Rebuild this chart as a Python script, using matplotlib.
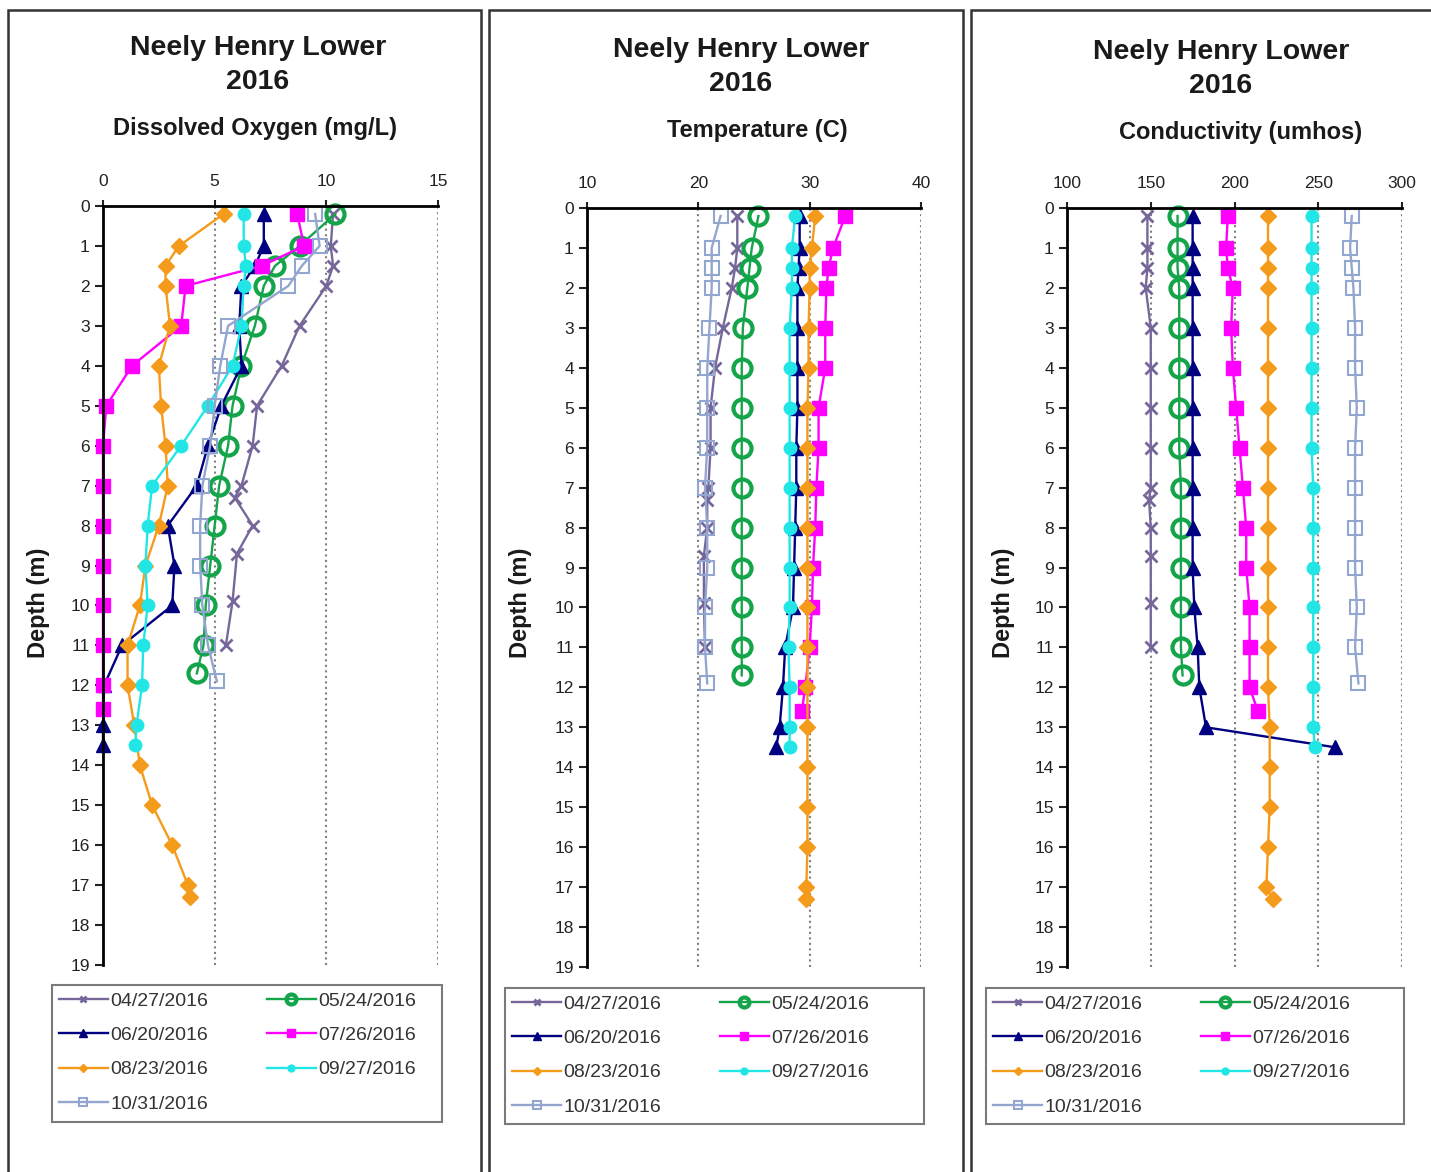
import matplotlib
matplotlib.use("Agg")
import matplotlib.pyplot as plt
from matplotlib.patches import Rectangle

plt.rcParams["font.family"] = ["Liberation Sans", "DejaVu Sans"]

W, H = 1431, 1172

dates = ["04/27/2016", "05/24/2016", "06/20/2016", "07/26/2016",
         "08/23/2016", "09/27/2016", "10/31/2016"]

# depths (m) of each profile
depth_0427 = [0.2, 1, 1.5, 2, 3, 4, 5, 6, 7, 7.3, 8, 8.7, 9.9, 11]
depth_0524 = [0.2, 1, 1.5, 2, 3, 4, 5, 6, 7, 8, 9, 10, 11, 11.7]
depth_0620 = [0.2, 1, 1.5, 2, 3, 4, 5, 6, 7, 8, 9, 10, 11, 12, 13, 13.5]
depth_0726 = [0.2, 1, 1.5, 2, 3, 4, 5, 6, 7, 8, 9, 10, 11, 12, 12.6]
depth_0823 = [0.2, 1, 1.5, 2, 3, 4, 5, 6, 7, 8, 9, 10, 11, 12, 13, 14, 15,
              16, 17, 17.3]
depth_0927 = [0.2, 1, 1.5, 2, 3, 4, 5, 6, 7, 8, 9, 10, 11, 12, 13, 13.5]
depth_1031 = [0.2, 1, 1.5, 2, 3, 4, 5, 6, 7, 8, 9, 10, 11, 11.9]

# dissolved oxygen (mg/L)
do_0427 = [10.3, 10.2, 10.3, 10.0, 8.8, 8.0, 6.9, 6.7, 6.2, 5.9, 6.7, 6.0,
           5.8, 5.5]
do_0524 = [10.4, 8.8, 7.7, 7.2, 6.8, 6.2, 5.8, 5.6, 5.2, 5.0, 4.8, 4.6, 4.5,
           4.2]
do_0620 = [7.2, 7.2, 6.8, 6.2, 6.1, 6.2, 5.3, 4.7, 4.2, 2.9, 3.2, 3.1, 0.85,
           0.05, 0.0, 0.0]
do_0726 = [8.7, 9.0, 7.1, 3.7, 3.5, 1.3, 0.15, 0, 0, 0, 0, 0, 0, 0, 0]
do_0823 = [5.4, 3.4, 2.8, 2.8, 3.0, 2.5, 2.6, 2.8, 2.9, 2.5, 1.9, 1.65, 1.1,
           1.1, 1.4, 1.65, 2.2, 3.1, 3.8, 3.9]
do_0927 = [6.3, 6.3, 6.4, 6.3, 6.2, 5.8, 4.7, 3.5, 2.2, 2.0, 1.9, 2.0, 1.8,
           1.75, 1.5, 1.45]
do_1031 = [9.5, 9.7, 8.9, 8.3, 5.6, 5.25, 5.0, 4.8, 4.45, 4.35, 4.35, 4.45,
           4.7, 5.1]

# temperature (C)
temp_0427 = [23.5, 23.5, 23.3, 23.0, 22.2, 21.5, 21.1, 21.1, 20.9, 20.8,
             20.8, 20.5, 20.5, 20.6]
temp_0524 = [25.4, 24.8, 24.6, 24.4, 24.0, 23.9, 23.9, 23.9, 23.9, 23.9,
             23.9, 23.9, 23.9, 23.9]
temp_0620 = [29.1, 29.1, 29.0, 28.9, 28.9, 28.9, 28.9, 28.8, 28.8, 28.7,
             28.6, 28.5, 27.8, 27.6, 27.3, 27.0]
temp_0726 = [33.2, 32.1, 31.7, 31.5, 31.4, 31.4, 30.8, 30.8, 30.6, 30.5,
             30.3, 30.2, 30.0, 29.6, 29.3]
temp_0823 = [30.5, 30.2, 30.0, 30.0, 29.9, 29.9, 29.8, 29.8, 29.8, 29.8,
             29.8, 29.8, 29.8, 29.8, 29.8, 29.8, 29.8, 29.8, 29.7, 29.7]
temp_0927 = [28.7, 28.4, 28.4, 28.4, 28.2, 28.2, 28.2, 28.2, 28.2, 28.2,
             28.2, 28.2, 28.1, 28.2, 28.2, 28.2]
temp_1031 = [22.0, 21.2, 21.2, 21.2, 21.0, 20.8, 20.8, 20.8, 20.6, 20.8,
             20.8, 20.6, 20.6, 20.8]

# conductivity (umhos)
cond_0427 = [148, 148, 148, 147, 150, 150, 150, 150, 150, 149, 150, 150,
             150, 150]
cond_0524 = [166, 166, 166, 167, 167, 167, 167, 167, 168, 168, 168, 168,
             168, 169]
cond_0620 = [175, 175, 175, 175, 175, 175, 175, 175, 175, 175, 175, 176,
             178, 179, 183, 260]
cond_0726 = [196, 195, 196, 199, 198, 199, 201, 203, 205, 207, 207, 209,
             209, 209, 214]
cond_0823 = [220, 220, 220, 220, 220, 220, 220, 220, 220, 220, 220, 220,
             220, 220, 221, 221, 221, 220, 219, 223]
cond_0927 = [246, 246, 246, 246, 246, 246, 246, 246, 247, 247, 247, 247,
             247, 247, 247, 248]
cond_1031 = [270, 269, 270, 271, 272, 272, 273, 272, 272, 272, 272, 273,
             272, 274]

depths = [depth_0427, depth_0524, depth_0620, depth_0726, depth_0823,
          depth_0927, depth_1031]
do_vals = [do_0427, do_0524, do_0620, do_0726, do_0823, do_0927, do_1031]
temp_vals = [temp_0427, temp_0524, temp_0620, temp_0726, temp_0823,
             temp_0927, temp_1031]
cond_vals = [cond_0427, cond_0524, cond_0620, cond_0726, cond_0823,
             cond_0927, cond_1031]

# line/marker styles per date
styles = [
    dict(color="#76679a", marker="x", ms=8, mew=2.0, mfc="#76679a"),
    dict(color="#14a44a", marker="o", ms=13, mew=3.0, mfc="none"),
    dict(color="#000080", marker="^", ms=10, mew=1.0, mfc="#000080"),
    dict(color="#ff00ff", marker="s", ms=10, mew=1.0, mfc="#ff00ff"),
    dict(color="#f59b1c", marker="D", ms=8, mew=1.0, mfc="#f59b1c"),
    dict(color="#22e6e6", marker="o", ms=9, mew=1.0, mfc="#22e6e6"),
    dict(color="#93a6d0", marker="s", ms=10, mew=1.5, mfc="none"),
]


def fig_rect(left, top, right, bottom):
    return [left / W, 1 - bottom / H, (right - left) / W, (bottom - top) / H]


def draw_panel(fig, box, axbox, vals, xlim, xticks, subtitle,
               title_xy, sub_xy, label_x, legbox):
    # panel frame
    x0, x1 = box
    fig.add_artist(Rectangle((x0 / W, -0.05), (x1 - x0) / W,
                             1 - 10 / H + 0.05, transform=fig.transFigure,
                             fill=False, ec="#333333", lw=1.8))
    tx, ty = title_xy
    for line, dy in (("Neely Henry Lower", 0), ("2016", 34)):
        fig.text(tx / W, 1 - (ty + dy) / H, line, ha="center", va="center",
                 fontsize=20.5, fontweight="bold", color="#1a1a1a")
    fig.text(sub_xy[0] / W, 1 - sub_xy[1] / H, subtitle, ha="center",
             va="center", fontsize=17, fontweight="bold", color="#1a1a1a")

    ax = fig.add_axes(fig_rect(*axbox))
    handles = []
    for dep, v, date, st in zip(depths, vals, dates, styles):
        h, = ax.plot(v, dep, lw=1.7, label=date, color=st["color"],
                     marker=st["marker"], ms=st["ms"], mew=st["mew"],
                     mfc=st["mfc"], mec=st["color"], clip_on=False)
        handles.append(h)

    ax.set_xlim(*xlim)
    ax.set_ylim(19, 0)
    ax.set_xticks(xticks)
    ax.set_yticks(range(0, 20))
    ax.xaxis.tick_top()
    ax.tick_params(axis="x", direction="out", length=4, width=1.5,
                   labelsize=12.5, pad=8, colors="#222222")
    ax.tick_params(axis="y", direction="out", length=6, width=1.5,
                   labelsize=12.5, pad=3.5, colors="#222222")
    for side in ("right", "bottom"):
        ax.spines[side].set_visible(False)
    for side in ("left", "top"):
        ax.spines[side].set_linewidth(2.0)
        ax.spines[side].set_color("black")
    ax.grid(axis="x", color="#808080", ls=":", lw=1.5)
    ax.set_axisbelow(True)
    fig.text(label_x / W, 1 - 603 / H, "Depth (m)", rotation=90,
             ha="center", va="center", fontsize=17, fontweight="bold",
             color="#1a1a1a")

    # legend box drawn by hand, Excel fills the entries row by row
    lx0, ly0, lx1, ly1 = legbox
    fig.add_artist(Rectangle((lx0 / W, 1 - ly1 / H), (lx1 - lx0) / W,
                             (ly1 - ly0) / H, transform=fig.transFigure,
                             fill=False, ec="#7a7a7a", lw=1.5))
    order = [0, 2, 4, 6, 1, 3, 5]
    leg = ax.legend([handles[i] for i in order], [dates[i] for i in order],
                    loc="upper left", ncol=2,
                    bbox_to_anchor=(lx0 / W, 1 - ly0 / H),
                    bbox_transform=fig.transFigure, fontsize=14,
                    frameon=False, handlelength=2.5, handletextpad=0.15,
                    labelspacing=0.86, borderpad=0.37, columnspacing=3.0,
                    markerscale=0.55, borderaxespad=0)
    for t in leg.get_texts():
        t.set_color("#333333")
    return ax


def plot():
    fig = plt.figure(figsize=(W / 100, H / 100), dpi=100)
    draw_panel(fig, (8, 481), (103, 206, 438, 965), do_vals, (0, 15),
               [0, 5, 10, 15], "Dissolved Oxygen (mg/L)", (258, 48),
               (255, 128), 38, (52, 985, 442, 1122))
    draw_panel(fig, (489, 963), (587, 208, 921, 967), temp_vals, (10, 40),
               [10, 20, 30, 40], "Temperature (C)", (741, 50), (757, 130),
               521, (505, 988, 924, 1124))
    draw_panel(fig, (971, 1440), (1067, 208, 1402, 967), cond_vals,
               (100, 300), [100, 150, 200, 250, 300], "Conductivity (umhos)",
               (1221, 52), (1241, 132), 1003, (986, 988, 1404, 1124))
    fig.savefig("out.png", dpi=100, facecolor="white")


if __name__ == "__main__":
    plot()
